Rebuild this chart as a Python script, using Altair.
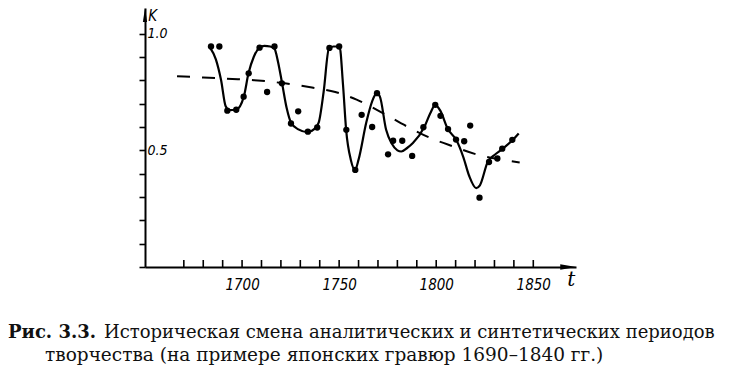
import altair as alt
import pandas as pd

# ---------------- data ----------------
# smooth hand-drawn curve (knots)
curve_year = [1683.5, 1686.5, 1689.2, 1691.5, 1693.5, 1697.0, 1700.9, 1703.3, 1706.0,
              1709.0, 1711.5, 1714.5, 1716.7, 1718.5, 1720.6, 1723.0, 1725.3, 1729.0,
              1733.8, 1737.3, 1739.5, 1742.0, 1744.7, 1747.0, 1750.2, 1752.0, 1753.6,
              1756.0, 1758.2, 1760.0, 1764.0, 1767.0, 1769.4, 1771.0, 1774.2, 1777.0,
              1780.0, 1782.0, 1785.0, 1788.0, 1794.0, 1797.0, 1799.5, 1802.1, 1806.0,
              1810.3, 1814.0, 1817.0, 1820.6, 1822.5, 1826.6, 1830.0, 1834.0, 1839.5,
              1842.5]
curve_k = [0.94, 0.89, 0.80, 0.69, 0.672, 0.674, 0.73, 0.83, 0.90,
           0.94, 0.948, 0.945, 0.935, 0.88, 0.788, 0.68, 0.617, 0.59,
           0.578, 0.592, 0.62, 0.75, 0.935, 0.945, 0.945, 0.78, 0.588,
           0.46, 0.416, 0.46, 0.62, 0.71, 0.745, 0.73, 0.588, 0.53,
           0.50, 0.495, 0.51, 0.531, 0.602, 0.66, 0.695, 0.67, 0.591,
           0.545, 0.47, 0.39, 0.338, 0.35, 0.452, 0.48, 0.505, 0.545,
           0.572]

# observed points
dot_year = [1684.0, 1688.3, 1692.4, 1697.0, 1700.8, 1703.4, 1709.0, 1712.9, 1716.7,
            1720.5, 1725.2, 1728.9, 1733.9, 1738.7, 1745.0, 1750.0, 1753.7, 1758.3,
            1761.6, 1767.0, 1769.5, 1775.2, 1777.8, 1782.5, 1787.6, 1793.4, 1799.5,
            1802.2, 1806.1, 1810.2, 1814.4, 1817.5, 1822.3, 1827.2, 1831.5, 1834.0,
            1839.2]
dot_k = [0.945, 0.945, 0.67, 0.674, 0.73, 0.83, 0.94, 0.75, 0.945,
         0.787, 0.615, 0.667, 0.58, 0.598, 0.939, 0.945, 0.588, 0.416,
         0.652, 0.60, 0.745, 0.483, 0.541, 0.541, 0.476, 0.599, 0.695,
         0.648, 0.591, 0.546, 0.539, 0.606, 0.297, 0.45, 0.465, 0.507,
         0.545]

# dashed trend
trend_year = [1666.5, 1680, 1695, 1710, 1722, 1736, 1748, 1759, 1772, 1785,
              1797, 1809, 1821, 1831, 1843]
trend_k = [0.818, 0.812, 0.806, 0.798, 0.787, 0.769, 0.75, 0.717, 0.662, 0.602,
           0.553, 0.516, 0.482, 0.464, 0.448]

xtick_years = list(range(1670, 1851, 10))
xlabel_years = [1700, 1750, 1800, 1850]
ytick_values = [0.0, 0.1, 0.2, 0.3, 0.4, 0.5, 0.6, 0.7, 0.8, 0.9, 1.0]

caption_bold = "Рис. 3.3."
caption_line1 = "Историческая смена аналитических и синтетических периодов"
caption_line2 = "творчества (на примере японских гравюр 1690–1840 гг.)"

# ---------------- chart ----------------
X_DOMAIN = [1650, 1872]
Y_DOMAIN = [0, 1.11]
W, H = 431, 259
LABEL_FONT = "Liberation Sans Narrow, DejaVu Sans Condensed, Liberation Sans, sans-serif"
SERIF = "DejaVu Serif, Liberation Serif, serif"

xs = alt.Scale(domain=X_DOMAIN, nice=False, zero=False)
ys = alt.Scale(domain=Y_DOMAIN, nice=False, zero=False)

x_axis = alt.Axis(values=xlabel_years, ticks=False, tickSize=0, labelPadding=10,
                  labelBaseline="top", labelFont=LABEL_FONT, labelFontStyle="italic",
                  labelFontSize=15, labelColor="black", domainColor="black",
                  domainWidth=2, grid=False, title=None, format="d", labelOverlap=False)
y_axis = alt.Axis(values=ytick_values, tickSize=6, tickWidth=1.6, tickColor="black",
                  labelExpr="abs(datum.value-1)<1e-6 ? '1.0' : (abs(datum.value-0.5)<1e-6 ? '0.5' : '')",
                  labelAlign="left", labelPadding=-8, labelBaseline="middle",
                  labelFont=LABEL_FONT, labelFontStyle="italic", labelFontSize=14,
                  labelColor="black", domainColor="black", domainWidth=2, grid=False,
                  title=None, labelOverlap=False)

df_curve = pd.DataFrame({"year": curve_year, "k": curve_k})
df_dots = pd.DataFrame({"year": dot_year, "k": dot_k})
df_trend = pd.DataFrame({"year": trend_year, "k": trend_k})
df_ticks = pd.DataFrame({"year": xtick_years})


def X(field="year:Q"):
    return alt.X(field, scale=xs, axis=x_axis)


def Y(field="k:Q"):
    return alt.Y(field, scale=ys, axis=y_axis)


curve = alt.Chart(df_curve).mark_line(color="black", strokeWidth=2.2,
                                      interpolate="monotone").encode(x=X(), y=Y())
trend = alt.Chart(df_trend).mark_line(color="black", strokeWidth=2, strokeDash=[13, 12],
                                      interpolate="monotone").encode(x=X(), y=Y())
dots = alt.Chart(df_dots).mark_circle(color="black", size=40, opacity=1).encode(x=X(), y=Y())
ticks = alt.Chart(df_ticks).mark_rule(color="black", strokeWidth=1.6).encode(
    x=X(), y=alt.datum(0, scale=ys, axis=y_axis), y2=alt.datum(0.03))

arrow_x = alt.Chart(pd.DataFrame({"year": [1868], "k": [0]})).mark_point(
    shape="M1,0L-1,0.35L-1,-0.35Z", size=256, filled=True, color="black", opacity=1,
    strokeWidth=0).encode(x=X(), y=Y())
arrow_y = alt.Chart(pd.DataFrame({"year": [1650], "k": [1.08]})).mark_point(
    shape="M0,-1L0.3,1L-0.3,1Z", size=196, filled=True, color="black", opacity=1,
    strokeWidth=0).encode(x=X(), y=Y())

k_label = alt.Chart(pd.DataFrame({"year": [1654], "k": [1.074], "t": ["K"]})).mark_text(
    font=LABEL_FONT, fontStyle="italic", fontSize=15, color="black", align="center",
    baseline="middle").encode(x=X(), y=Y(), text="t:N")
t_label = alt.Chart(pd.DataFrame({"year": [1869.5], "k": [-0.056], "t": ["t"]})).mark_text(
    font=SERIF, fontStyle="italic", fontSize=20, color="black", align="center",
    baseline="middle").encode(x=X(), y=Y(), text="t:N")

one = pd.DataFrame({"a": [0]})
cap_b = alt.Chart(one).mark_text(text=caption_bold, font=SERIF, fontWeight="bold", fontSize=18,
                                 align="left", baseline="alphabetic", color="#111").encode(
    x=alt.value(-137), y=alt.value(330))
cap_1 = alt.Chart(one).mark_text(text=caption_line1, font=SERIF, fontSize=18,
                                 align="left", baseline="alphabetic", color="#111").encode(
    x=alt.value(-41), y=alt.value(330))
cap_2 = alt.Chart(one).mark_text(text=caption_line2, font=SERIF, fontSize=18.5,
                                 align="left", baseline="alphabetic", color="#111").encode(
    x=alt.value(-100), y=alt.value(353))

chart = alt.layer(curve, trend, dots, ticks, arrow_x, arrow_y, k_label, t_label,
                  cap_b, cap_1, cap_2).properties(
    width=W, height=H,
    autosize=alt.AutoSizeParams(type="none"),
    padding={"left": 137, "top": 0, "right": 716 - 137 - W, "bottom": 357 - H},
    background="white",
).configure_view(stroke=None)

chart.save("out.html", embed_options={"renderer": "svg", "actions": False})
